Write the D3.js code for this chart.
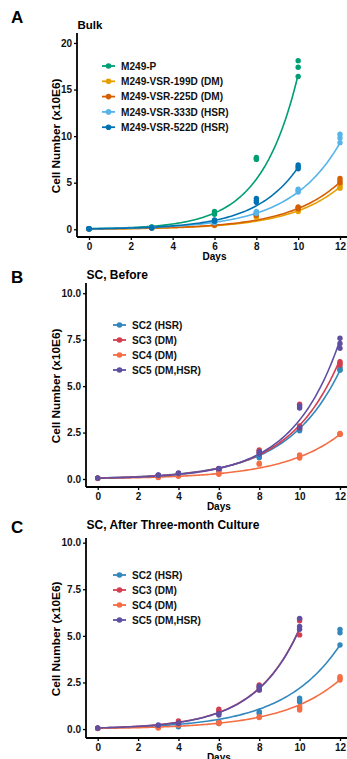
<!DOCTYPE html>
<html><head><meta charset="utf-8">
<script src="https://cdn.jsdelivr.net/npm/d3@7/dist/d3.min.js"></script>
<style>body{margin:0;background:#fff}svg{display:block;font-family:"Liberation Sans",Arial,sans-serif}</style>
</head><body>
<svg id="chart" width="347" height="759"></svg>
<script>
// ---------- data ----------
const xTicks = [0, 2, 4, 6, 8, 10, 12];
const yTicksA = [0, 5, 10, 15, 20];
const yTicksSC = [0, 2.5, 5, 7.5, 10];

// Panel A (Bulk)
const namesA = ["M249-P", "M249-VSR-199D (DM)", "M249-VSR-225D (DM)", "M249-VSR-333D (HSR)", "M249-VSR-522D (HSR)"];
const colorsA = ["#009E73", "#E69F00", "#D55E00", "#56B4E9", "#0072B2"];
const daysA = [0, 3, 6, 8, 10, 12];
const m249P   = [[0.05,0.05,0.06],[0.2,0.22,0.25],[1.6,1.75,1.9],[7.5,7.6,7.7],[16.4,17.4,18.1],[]];
const vsr199D = [[0.05,0.05,0.05],[0.12,0.13,0.15],[0.4,0.45,0.5],[1.3,1.4,1.5],[1.9,2.0,2.1],[4.4,4.6,4.8]];
const vsr225D = [[0.05,0.05,0.05],[0.15,0.15,0.16],[0.45,0.5,0.55],[1.5,1.6,1.75],[2.2,2.3,2.4],[5.0,5.2,5.45]];
const vsr333D = [[0.05,0.05,0.05],[0.15,0.16,0.17],[0.7,0.75,0.8],[1.7,1.8,1.9],[4.0,4.15,4.3],[9.3,9.8,10.2]];
const vsr522D = [[0.05,0.05,0.05],[0.15,0.17,0.18],[0.85,0.95,1.0],[2.9,3.1,3.3],[6.5,6.7,6.9],[]];
const valuesA = [m249P, vsr199D, vsr225D, vsr333D, vsr522D];
const fitStartA = [0.059, 0.032, 0.037, 0.06, 0.052];
const fitRateA  = [0.564, 0.413, 0.41, 0.42, 0.485];
const fitEndA   = [10, 12, 12, 12, 10];

// Panels B and C (single clones)
const namesSC = ["SC2 (HSR)", "SC3 (DM)", "SC4 (DM)", "SC5 (DM,HSR)"];
const colorsSC = ["#3288BD", "#D53E4F", "#F46D43", "#5E4FA2"];
const daysSC = [0, 3, 4, 6, 8, 10, 12];
const sc2Before = [[0.05,0.05],[0.15,0.16],[0.25,0.27],[0.45,0.5],[1.15,1.2,1.25],[2.6,2.65,2.8],[5.85,5.9,6.0]];
const sc3Before = [[0.05,0.05],[0.18,0.2],[0.28,0.3],[0.5,0.55],[1.4,1.5,1.56],[2.75,2.85,4.02],[6.14,6.23,6.32]];
const sc4Before = [[0.03,0.04],[0.08,0.1],[0.15,0.18],[0.25,0.3],[0.8,0.85],[1.13,1.2,1.29],[2.4,2.42,2.45]];
const sc5Before = [[0.05,0.05],[0.2,0.22],[0.3,0.33],[0.55,0.57],[1.35,1.47],[2.75,3.82,3.93],[7.04,7.3,7.58]];
const valuesB = [sc2Before, sc3Before, sc4Before, sc5Before];
const fitStartB = [0.059, 0.053, 0.036, 0.044];
const fitRateB  = [0.383, 0.40, 0.35, 0.428];
const fitEndB   = [12, 12, 12, 12];

const sc2After = [[0.05,0.05],[0.1,0.12],[0.12,0.15],[0.3,0.4],[0.85,0.93],[1.47,1.55,1.65],[4.51,5.17,5.35]];
const sc3After = [[0.05,0.05],[0.15,0.17],[0.35,0.43],[0.95,1.06],[2.1,2.25,2.36],[5.05,5.81,5.9],[]];
const sc4After = [[0.03,0.03],[0.05,0.08],[0.2,0.22],[0.3,0.35],[0.62,0.66],[1.02,1.1,1.2],[2.63,2.72,2.81]];
const sc5After = [[0.05,0.05],[0.2,0.22],[0.3,0.32],[0.75,0.84],[2.09,2.2,2.3],[5.35,5.5,5.94],[]];
const valuesC = [sc2After, sc3After, sc4After, sc5After];
const fitStartC = [0.06, 0.06, 0.037, 0.058];
const fitRateC  = [0.36, 0.45, 0.356, 0.453];
const fitEndC   = [12, 10, 12, 10];

// ---------- drawing ----------
const svg = d3.select("#chart");

function panel(cfg) {
  const g = svg.append("g");
  const x = d3.scaleLinear().domain(cfg.xDomain).range([cfg.left, cfg.right]);
  const y = d3.scaleLinear().domain(cfg.yDomain).range([cfg.bottom, cfg.top]);

  // panel letter and title
  g.append("text").attr("x", 11).attr("y", cfg.letterY).attr("font-size", 17).attr("font-weight", "bold")
    .text(cfg.letter);
  g.append("text").attr("x", cfg.left + 0.5).attr("y", cfg.titleY).attr("font-size", cfg.titleSize)
    .attr("font-weight", "bold").text(cfg.title);

  // fitted curves and points
  const line = d3.line().x(d => x(d[0])).y(d => y(d[1]));
  cfg.values.forEach((series, i) => {
    const pts = d3.range(0, cfg.fitEnd[i] + 0.001, 0.1).map(t => [t, cfg.fitStart[i] * Math.exp(cfg.fitRate[i] * t)]);
    g.append("path").attr("d", line(pts)).attr("fill", "none").attr("stroke", cfg.colors[i])
      .attr("stroke-width", 1.6);
  });
  cfg.values.forEach((series, i) => {
    series.forEach((reps, j) => {
      reps.forEach(v => {
        g.append("circle").attr("cx", x(cfg.days[j])).attr("cy", y(v)).attr("r", 2.7)
          .attr("fill", cfg.colors[i]);
      });
    });
  });

  // axes
  const ya = g.append("g").attr("transform", `translate(${cfg.left},0)`)
    .call(d3.axisLeft(y).tickValues(cfg.yTicks).tickFormat(cfg.yFormat).tickSize(3).tickPadding(2));
  const xa = g.append("g").attr("transform", `translate(0,${cfg.bottom})`)
    .call(d3.axisBottom(x).tickValues(xTicks).tickFormat(d3.format("d")).tickSize(3).tickPadding(2.5));
  [ya, xa].forEach(a => {
    a.select(".domain").attr("stroke", "#000").attr("stroke-width", 1.8);
    a.selectAll(".tick line").attr("stroke", "#000").attr("stroke-width", 1.3);
    a.selectAll(".tick text").attr("fill", "#111").attr("font-size", 10).attr("font-weight", "bold")
      .attr("font-family", "Liberation Sans, Arial, sans-serif");
  });
  ya.select(".domain").attr("d", `M0,${cfg.bottom}V${cfg.top}`);
  xa.select(".domain").attr("d", `M${cfg.left},0H${cfg.right}`);

  // axis titles
  g.append("text").attr("transform", `translate(59.5,${(cfg.top + cfg.bottom) / 2 + 1}) rotate(-90)`)
    .attr("text-anchor", "middle").attr("font-size", 11.8).attr("font-weight", "bold").text("Cell Number (x10E6)");
  g.append("text").attr("x", (cfg.left + cfg.right) / 2).attr("y", cfg.bottom + 23)
    .attr("text-anchor", "middle").attr("font-size", 10).attr("font-weight", "bold").text("Days");

  // legend
  cfg.names.forEach((n, i) => {
    const ly = cfg.legendY + i * cfg.legendStep;
    const lg = g.append("g");
    lg.append("line").attr("x1", cfg.legendX).attr("x2", cfg.legendX + 13).attr("y1", ly).attr("y2", ly)
      .attr("stroke", cfg.colors[i]).attr("stroke-width", 1.8);
    lg.append("circle").attr("cx", cfg.legendX + 6.5).attr("cy", ly).attr("r", 2.8).attr("fill", cfg.colors[i]);
    lg.append("text").attr("x", cfg.legendX + 19).attr("y", ly).attr("dy", "0.36em")
      .attr("font-size", 10.1).attr("font-weight", "bold").attr("fill", "#111").text(n);
  });
}

panel({
  letter: "A", letterY: 22.7, title: "Bulk", titleY: 28.5, titleSize: 11.5,
  left: 77, right: 352, top: 33, bottom: 237,
  xDomain: [-0.574, 12.574], yDomain: [-0.83, 21.07],
  yTicks: yTicksA, yFormat: d3.format("d"),
  days: daysA, values: valuesA, colors: colorsA, names: namesA,
  fitStart: fitStartA, fitRate: fitRateA, fitEnd: fitEndA,
  legendX: 102, legendY: 66, legendStep: 15.3
});

panel({
  letter: "B", letterY: 283.3, title: "SC, Before", titleY: 279.3, titleSize: 12,
  left: 86, right: 351.7, top: 283, bottom: 487,
  xDomain: [-0.58, 12.58], yDomain: [-0.43, 10.55],
  yTicks: yTicksSC, yFormat: d3.format(".1f"),
  days: daysSC, values: valuesB, colors: colorsSC, names: namesSC,
  fitStart: fitStartB, fitRate: fitRateB, fitEnd: fitEndB,
  legendX: 113, legendY: 325, legendStep: 15
});

panel({
  letter: "C", letterY: 532.7, title: "SC, After Three-month Culture", titleY: 528.5, titleSize: 12,
  left: 86, right: 351.7, top: 538, bottom: 738,
  xDomain: [-0.58, 12.58], yDomain: [-0.48, 10.25],
  yTicks: yTicksSC, yFormat: d3.format(".1f"),
  days: daysSC, values: valuesC, colors: colorsSC, names: namesSC,
  fitStart: fitStartC, fitRate: fitRateC, fitEnd: fitEndC,
  legendX: 113, legendY: 575, legendStep: 15
});
</script>
</body></html>
